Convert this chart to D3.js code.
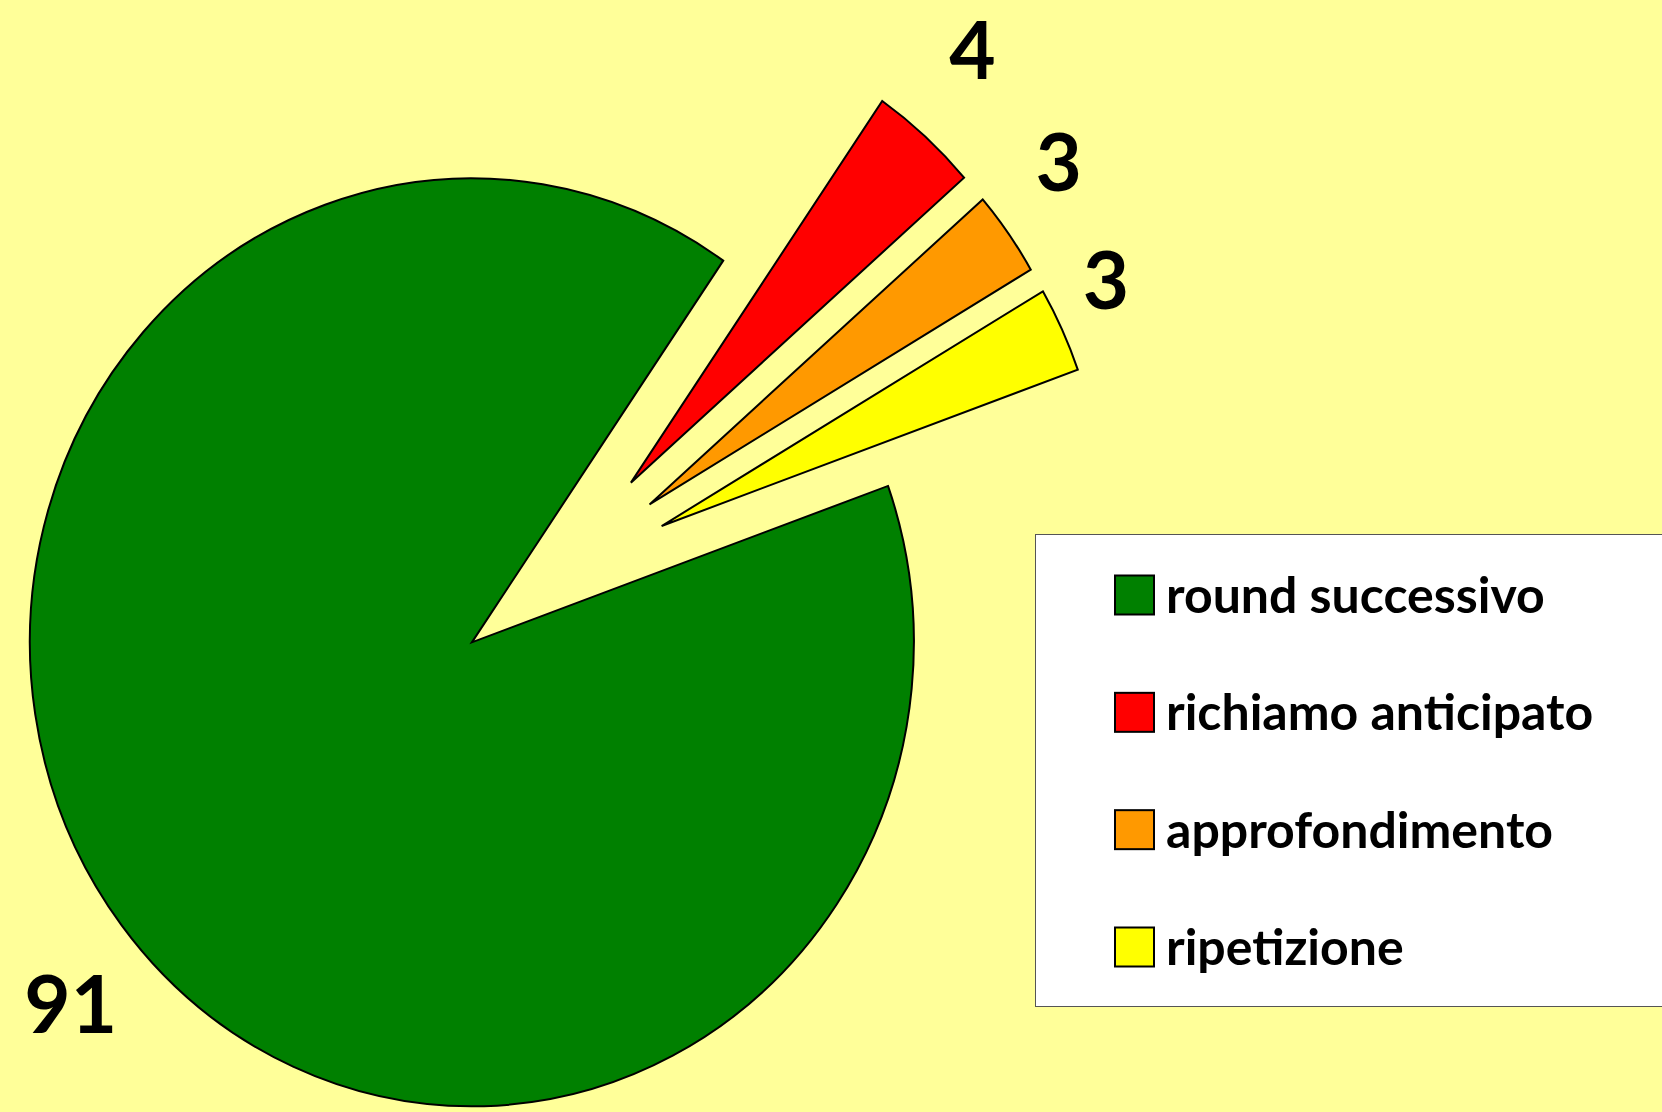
<!DOCTYPE html>
<meta charset="utf-8">
<style>
  body { margin: 0; background: #ffff99; }
  svg { display: block; }
</style>
<script src="https://d3js.org/d3.v7.min.js"></script>
<body>
<script>

  // data
  var categories = ["round successivo", "richiamo anticipato", "approfondimento", "ripetizione"]
  var values = [91, 4, 3, 3]
  var colors = ["#008000", "#ff0000", "#ff9900", "#ffff00"]
  var explode = [0.21, 0.29, 0.29, 0.29]   // fraction of radius each slice is pulled out

  var width = 1662,
      height = 1112

  var radius = 442,
      yStretch = 464 / 442,          // the original pie is a little taller than wide
      cx = 545.5,
      cy = 583,
      startAngle = 70.3 * Math.PI / 180,
      labelTilt = -3 * Math.PI / 180,
      labelSize = 80

  // labels near the vertical sit a bit farther out than those near the horizontal
  function labelDist(m) { return 440 + 135 * Math.abs(Math.cos(m)) }

  var svg = d3.select("body")
    .append("svg")
      .attr("width", width)
      .attr("height", height)

  svg.append("rect")
    .attr("width", width)
    .attr("height", height)
    .attr("fill", "#ffff99")

  var pie = d3.pie()
    .sort(null)
    .value(function(d) { return d })
    .startAngle(startAngle)
    .endAngle(startAngle + 2 * Math.PI)

  var data_ready = pie(values)

  var arc = d3.arc()
    .innerRadius(0)
    .outerRadius(radius)

  function mid(d) { return (d.startAngle + d.endAngle) / 2 }

  var g = svg.append("g")
    .attr("transform", "translate(" + cx + "," + cy + ") scale(1," + yStretch + ")")

  g.selectAll("path")
    .data(data_ready)
    .enter()
    .append("path")
      .attr("transform", function(d, i) {
        var e = explode[i] * radius, m = mid(d)
        return "translate(" + (e * Math.sin(m)) + "," + (-e * Math.cos(m)) + ")"
      })
      .attr("d", arc)
      .attr("fill", function(d, i) { return colors[i] })
      .attr("stroke", "#000")
      .attr("stroke-width", 2)
      .style("vector-effect", "non-scaling-stroke")

  // value labels outside each slice
  svg.selectAll("text.val")
    .data(data_ready)
    .enter()
    .append("text")
      .attr("class", "val")
      .attr("x", function(d, i) {
        var m = mid(d), e = explode[i] * radius, t = m + labelTilt
        return cx + e * Math.sin(m) + labelDist(t) * Math.sin(t)
      })
      .attr("y", function(d, i) {
        var m = mid(d), e = explode[i] * radius, t = m + labelTilt
        var y = cy + (-e * Math.cos(m) - labelDist(t) * Math.cos(t)) * yStretch
        return Math.max(y, labelSize * 0.6)   // keep the top label inside the page
      })
      .attr("text-anchor", "middle")
      .attr("dominant-baseline", "central")
      .style("font-family", "Lato, 'DejaVu Sans', sans-serif")
      .style("font-weight", "bold")
      .style("font-size", labelSize + "px")
      .text(function(d) { return d.data })

  // legend
  var legend = svg.append("g")

  legend.append("rect")
    .attr("x", 1035.5)
    .attr("y", 534.5)
    .attr("width", 700)
    .attr("height", 472)
    .attr("fill", "#fff")
    .attr("stroke", "#555")
    .attr("stroke-width", 1)

  var row = d3.scalePoint()
    .domain(categories)
    .range([595, 947])

  var items = legend.selectAll("g.item")
    .data(categories)
    .enter()
    .append("g")
      .attr("class", "item")
      .attr("transform", function(d) { return "translate(1115," + row(d) + ")" })

  items.append("rect")
    .attr("x", 0)
    .attr("y", -19.5)
    .attr("width", 39)
    .attr("height", 39)
    .attr("fill", function(d, i) { return colors[i] })
    .attr("stroke", "#000")
    .attr("stroke-width", 2)

  items.append("text")
    .attr("x", 51)
    .attr("y", 18)
    .style("font-family", "Lato, 'DejaVu Sans', sans-serif")
    .style("font-weight", "bold")
    .style("font-size", "50px")
    .text(function(d) { return d })

</script>
</body>
